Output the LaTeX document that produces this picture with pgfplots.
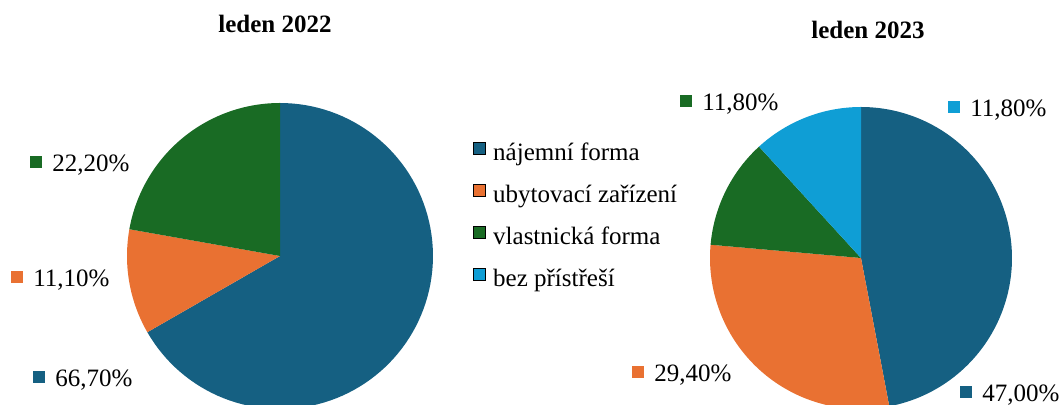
\documentclass[border=0pt]{standalone}
\usepackage{fontspec}
\setmainfont{Liberation Serif}
\usepackage{pgfplots}
\pgfplotsset{compat=1.18}

\definecolor{najem}{HTML}{156082}
\definecolor{ubyt}{HTML}{E97132}
\definecolor{vlast}{HTML}{196B24}
\definecolor{bez}{HTML}{0F9ED5}
\newcommand{\lf}{\fontsize{12.5}{15}\selectfont}

% slice: centre x, centre y, radius, cumulative start (%), share (%), colour
\newcommand{\pieslice}[6]{%
  \addplot[forget plot, draw=none, fill=#6, samples at={-1,0,0.01,...,0.995,1}]
    ({x<0 ? #1 : #1+#3*cos(90-3.6*(#4+#5*x))},
     {x<0 ? #2 : #2-#3*sin(90-3.6*(#4+#5*x))});}
% data label: x, baseline y, colour, text
\newcommand{\plabel}[4]{%
  \node[anchor=base west, inner sep=0pt, font=\lf] at (axis cs:#1,#2)
    {\textcolor{#3}{\rule[2pt]{6pt}{6pt}}\hspace{5pt}#4};}

\begin{document}
\begin{tikzpicture}
\useasboundingbox (0,0) rectangle (531pt,202.5pt);
\begin{axis}[
  at={(0,0)}, anchor=south west,
  scale only axis, x=0.5pt, y=0.5pt,
  xmin=0, xmax=1062, ymin=0, ymax=405, y dir=reverse,
  hide axis,
  legend image code/.code={\fill[#1] (0pt,0pt) rectangle (6pt,6pt);},
  legend cell align=left,
  legend style={at={(axis cs:473,142)}, anchor=north west, draw=none, fill=none,
    inner sep=0pt, font=\lf, row sep=8.8pt,
    nodes={inner sep=0pt, text height=9pt, text depth=3pt},
    /tikz/every odd column/.append style={column sep=3.5pt}},
]
% leden 2022
\pieslice{280}{256}{153}{0}{66.7}{najem}
\pieslice{280}{256}{153}{66.7}{11.1}{ubyt}
\pieslice{280}{256}{153}{77.8}{22.2}{vlast}
% leden 2023
\pieslice{861}{258}{151}{0}{47.0}{najem}
\pieslice{861}{258}{151}{47.0}{29.4}{ubyt}
\pieslice{861}{258}{151}{76.4}{11.8}{vlast}
\pieslice{861}{258}{151}{88.2}{11.8}{bez}

\addlegendimage{fill=najem}\addlegendentry{nájemní forma}
\addlegendimage{fill=ubyt}\addlegendentry{ubytovací zařízení}
\addlegendimage{fill=vlast}\addlegendentry{vlastnická forma}
\addlegendimage{fill=bez}\addlegendentry{bez přístřeší}

\node[anchor=base, inner sep=0pt, font=\lf\bfseries] at (axis cs:275,33) {leden 2022};
\node[anchor=base, inner sep=0pt, font=\lf\bfseries] at (axis cs:868,39) {leden 2023};

\plabel{30}{172}{vlast}{22,20\%}
\plabel{11}{287}{ubyt}{11,10\%}
\plabel{33}{387}{najem}{66,70\%}
\plabel{680}{111}{vlast}{11,80\%}
\plabel{948}{117}{bez}{11,80\%}
\plabel{632}{382}{ubyt}{29,40\%}
\plabel{960}{402}{najem}{47,00\%}
\end{axis}
\end{tikzpicture}
\end{document}
